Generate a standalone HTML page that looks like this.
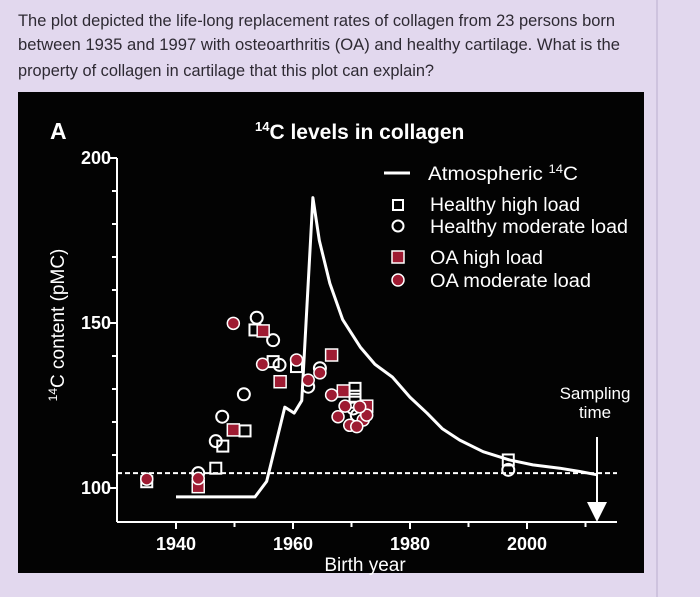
<!DOCTYPE html>
<html><head><meta charset="utf-8"><style>
html,body{margin:0;padding:0;background:#e2d8ee;}
svg{display:block;font-family:"Liberation Sans",sans-serif;}
</style></head><body>
<svg id="chart" width="700" height="597" viewBox="0 0 700 597">
<rect x="0" y="0" width="700" height="597" fill="#e2d8ee"/>
<line x1="657" y1="0" x2="657" y2="597" stroke="#c8bcd8" stroke-width="1.5"/>
<g fill="#2e2a33" font-size="17">
<text x="18" y="26" textLength="597" lengthAdjust="spacingAndGlyphs">The plot depicted the life-long replacement rates of collagen from 23 persons born</text>
<text x="18" y="50" textLength="602" lengthAdjust="spacingAndGlyphs">between 1935 and 1997 with osteoarthritis (OA) and healthy cartilage. What is the</text>
<text x="18" y="76" textLength="416" lengthAdjust="spacingAndGlyphs">property of collagen in cartilage that this plot can explain?</text>
</g>
<rect x="18" y="92" width="626" height="481" fill="#030303"/>
<text x="50" y="139" fill="#fff" font-size="23" font-weight="bold">A</text>
<text x="255" y="139" fill="#fff" font-size="21" font-weight="bold"><tspan font-size="13" dy="-8">14</tspan><tspan dy="8">C levels in collagen</tspan></text>
<text transform="translate(64,325) rotate(-90)" text-anchor="middle" fill="#fff" font-size="19"><tspan font-size="12" dy="-7">14</tspan><tspan dy="7">C content (pMC)</tspan></text>
<text x="365" y="571" text-anchor="middle" fill="#fff" font-size="19">Birth year</text>
<g id="axes"></g>
<g id="marks"></g>
<g fill="#fff" font-size="19">
<line x1="384" y1="173" x2="410" y2="173" stroke="#fff" stroke-width="3"/>
<text x="428" y="180" textLength="150" lengthAdjust="spacingAndGlyphs">Atmospheric <tspan font-size="12" dy="-7">14</tspan><tspan dy="7">C</tspan></text>
<rect x="393" y="200" width="10" height="10" fill="none" stroke="#fff" stroke-width="2"/>
<text x="430" y="211" textLength="150" lengthAdjust="spacingAndGlyphs">Healthy high load</text>
<circle cx="398" cy="226" r="5.5" fill="none" stroke="#fff" stroke-width="2"/>
<text x="430" y="233" textLength="198" lengthAdjust="spacingAndGlyphs">Healthy moderate load</text>
<rect x="392" y="251" width="12" height="12" fill="#9e1b32" stroke="#fff" stroke-width="1.5"/>
<text x="430" y="264" textLength="113" lengthAdjust="spacingAndGlyphs">OA high load</text>
<circle cx="398" cy="280" r="6" fill="#9e1b32" stroke="#fff" stroke-width="1.5"/>
<text x="430" y="287" textLength="161" lengthAdjust="spacingAndGlyphs">OA moderate load</text>
</g>
<g fill="#fff" font-size="17" text-anchor="middle">
<text x="595" y="399">Sampling</text><text x="595" y="418">time</text>
</g>
<line x1="597" y1="437" x2="597" y2="505" stroke="#fff" stroke-width="2"/>
<polygon points="587,502 607,502 597,522" fill="#fff"/>
</svg>
<script>
const atmYears=[1940,1953.5,1955.5,1958.6,1960.2,1961.5,1963.4,1964.5,1966.3,1968.5,1971.5,1974,1977,1980,1982.9,1985.5,1988.5,1992.5,1997,2001,2005.6,2009,2012];
const atmValues=[97.3,97.3,102,124.5,122.7,126.5,188,175,162,151,142.7,137.5,133.6,127.5,122.7,118,114.5,111,108.5,107,106,105,104];
const hhYears=[1953.5,1956.6,1960.6,1951.8,1948,1946.8,1935,1970.6,1970.6,1970.6,1996.8];
const hhValues=[147.9,138.3,136.8,117.3,112.7,106,101.9,130.2,127.8,126,108.5];
const hmYears=[1953.8,1956.6,1957.7,1962.6,1964.6,1951.6,1947.9,1946.8,1943.8,1970.3,1970.9,1996.8];
const hmValues=[151.6,144.8,137.3,130.7,136.3,128.4,121.6,114.2,104.5,124.1,122,105.5];
const ohYears=[1954.9,1957.8,1966.6,1949.8,1943.8,1968.6,1972.6];
const ohValues=[147.6,132.2,140.3,117.6,100.4,129.4,124.8];
const omYears=[1949.8,1954.8,1960.6,1962.6,1964.6,1943.8,1935,1966.6,1968.9,1967.7,1969.7,1972,1970.9,1972.6,1971.4];
const omValues=[149.9,137.5,138.8,132.7,134.9,102.9,102.7,128.2,124.8,121.6,119,120.6,118.6,122.1,124.6];
const xTicks=[1940,1960,1980,2000];
const yTicks=[100,150,200];
const baseline=104.5;

const NS='http://www.w3.org/2000/svg';
const X=y=>176+(y-1940)*5.85;
const Y=v=>488-(v-100)*3.3;
function mk(tag,attrs,parent){const e=document.createElementNS(NS,tag);for(const k in attrs)e.setAttribute(k,attrs[k]);parent.appendChild(e);return e;}
const axes=document.getElementById('axes'),marks=document.getElementById('marks');
let e;
e=mk('line',{x1:117,y1:Y(200),x2:117,y2:522,stroke:'#fff','stroke-width':2},axes);


e=mk('line',{x1:117,y1:522,x2:617,y2:522,stroke:'#fff','stroke-width':2},axes);


for(let v=100;v<=200;v+=10){e=mk('line',{x1:v%50===0?110:112,y1:Y(v),x2:117,y2:Y(v),stroke:'#fff','stroke-width':2},axes);

}
yTicks.forEach(v=>{e=mk('text',{x:111,y:Y(v)+6,'text-anchor':'end',fill:'#fff','font-size':18,'font-weight':'bold'},axes);e.textContent=v;

});
for(let yr=1950;yr<=2010;yr+=20){e=mk('line',{x1:X(yr),y1:522,x2:X(yr),y2:527,stroke:'#fff','stroke-width':2},axes);

}
xTicks.forEach(yr=>{e=mk('line',{x1:X(yr),y1:522,x2:X(yr),y2:529,stroke:'#fff','stroke-width':2},axes);


e=mk('text',{x:X(yr),y:550,'text-anchor':'middle',fill:'#fff','font-size':18,'font-weight':'bold'},axes);e.textContent=yr;

});
e=mk('line',{x1:117,y1:Y(baseline),x2:617,y2:Y(baseline),stroke:'#fff','stroke-width':2,'stroke-dasharray':'5,3'},axes);


e=mk('polyline',{points:atmYears.map((y,i)=>X(y)+','+Y(atmValues[i])).join(' '),fill:'none',stroke:'#fff','stroke-width':3,'stroke-linejoin':'round'},marks);


const red='#9e1b32';
function sq(yrs,vals,filled,name){yrs.forEach((yr,i)=>{const s=filled?12:11;e=mk('rect',{x:X(yr)-s/2,y:Y(vals[i])-s/2,width:s,height:s,fill:filled?red:'none',stroke:'#fff','stroke-width':filled?1.5:2},marks);

});}
function ci(yrs,vals,filled,name){yrs.forEach((yr,i)=>{e=mk('circle',{cx:X(yr),cy:Y(vals[i]),r:6,fill:filled?red:'none',stroke:'#fff','stroke-width':filled?1.5:2},marks);

});}
sq(hhYears,hhValues,false,'healthy-high-point');
ci(hmYears,hmValues,false,'healthy-moderate-point');
sq(ohYears,ohValues,true,'oa-high-point');
ci(omYears,omValues,true,'oa-moderate-point');
</script>
</body></html>
